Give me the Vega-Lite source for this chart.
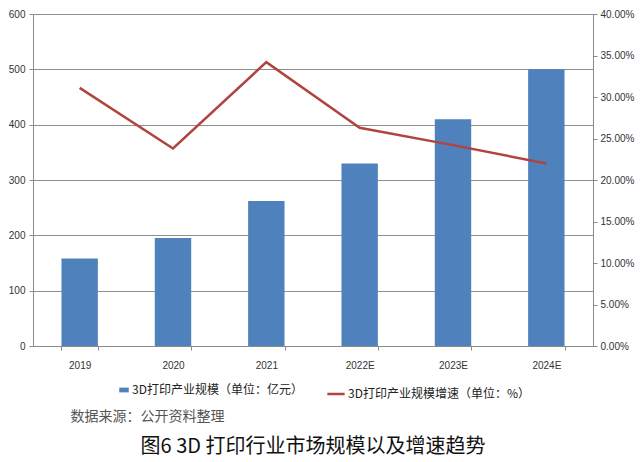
{
  "$schema": "https://vega.github.io/schema/vega-lite/v6.json",
  "width": 560,
  "height": 332,
  "autosize": {"type": "none"},
  "padding": {"left": 33, "top": 14, "right": 47, "bottom": 116},
  "background": "white",
  "config": {
    "view": {"stroke": null},
    "font": "Noto Sans CJK SC",
    "axis": {"labelFont": "Liberation Sans", "labelColor": "#333", "labelFontSize": 10, "domainColor": "#8a8a8a", "tickColor": "#8a8a8a", "gridColor": "#8f8f8f"}
  },
  "title": {
    "text": "图6 3D 打印行业市场规模以及增速趋势",
    "orient": "bottom",
    "anchor": "middle",
    "font": "Noto Sans CJK SC",
    "fontSize": 20,
    "fontWeight": "normal",
    "color": "#111",
    "offset": 14
  },
  "data": {
    "values": [
      {"year": "2019", "size": 158, "growth": 0.311},
      {"year": "2020", "size": 195, "growth": 0.238},
      {"year": "2021", "size": 262, "growth": 0.342},
      {"year": "2022E", "size": 330, "growth": 0.263},
      {"year": "2023E", "size": 410, "growth": 0.242},
      {"year": "2024E", "size": 500, "growth": 0.22}
    ]
  },
  "encoding": {
    "x": {
      "field": "year", "type": "nominal", "sort": null,
      "scale": {"paddingInner": 0.61, "paddingOuter": 0.305},
      "axis": {
        "labelAngle": 0, "tickBand": "extent", "tickSize": 4, "labelPadding": 10,
        "title": "数据来源：公开资料整理",
        "titleFont": "Noto Sans CJK SC", "titleFontSize": 14, "titleFontWeight": "normal", "titleColor": "#555",
        "titleAnchor": "start", "titleX": 37, "titleY": 70, "titleBaseline": "middle"
      }
    }
  },
  "layer": [
    {
      "mark": {"type": "bar", "color": "#4F81BD"},
      "encoding": {
        "y": {
          "field": "size", "type": "quantitative",
          "scale": {"domain": [0, 600]},
          "axis": {"values": [0, 100, 200, 300, 400, 500, 600], "title": null, "grid": true, "tickSize": 4, "labelPadding": 4}
        },
        "color": {
          "datum": "3D打印产业规模（单位：亿元）",
          "scale": {"range": ["#4F81BD"]},
          "legend": {
            "orient": "none", "legendX": 85, "legendY": 370, "title": null,
            "symbolType": "M-1,-0.5H1V0.5H-1Z", "symbolSize": 90, "symbolStrokeWidth": 0,
            "labelFont": "Noto Sans CJK SC", "labelFontSize": 12, "labelColor": "#222", "labelOffset": 2, "labelLimit": 400
          }
        }
      }
    },
    {
      "mark": {"type": "line", "color": "#B0443F", "strokeWidth": 2.5},
      "encoding": {
        "y": {
          "field": "growth", "type": "quantitative",
          "scale": {"domain": [0, 0.4]},
          "axis": {"orient": "right", "values": [0, 0.05, 0.1, 0.15, 0.2, 0.25, 0.3, 0.35, 0.4], "format": ".2%", "title": null, "grid": false, "tickSize": 4, "labelPadding": 3}
        },
        "color": {
          "datum": "3D打印产业规模增速（单位：%）",
          "scale": {"range": ["#B0443F"]},
          "legend": {
            "orient": "none", "legendX": 293, "legendY": 370, "title": null,
            "symbolType": "stroke", "symbolSize": 300, "symbolStrokeWidth": 2.5,
            "labelFont": "Noto Sans CJK SC", "labelFontSize": 12, "labelColor": "#222", "labelOffset": 2, "labelLimit": 400
          }
        }
      }
    }
  ],
  "resolve": {"scale": {"y": "independent", "color": "independent"}, "legend": {"color": "independent"}}
}
